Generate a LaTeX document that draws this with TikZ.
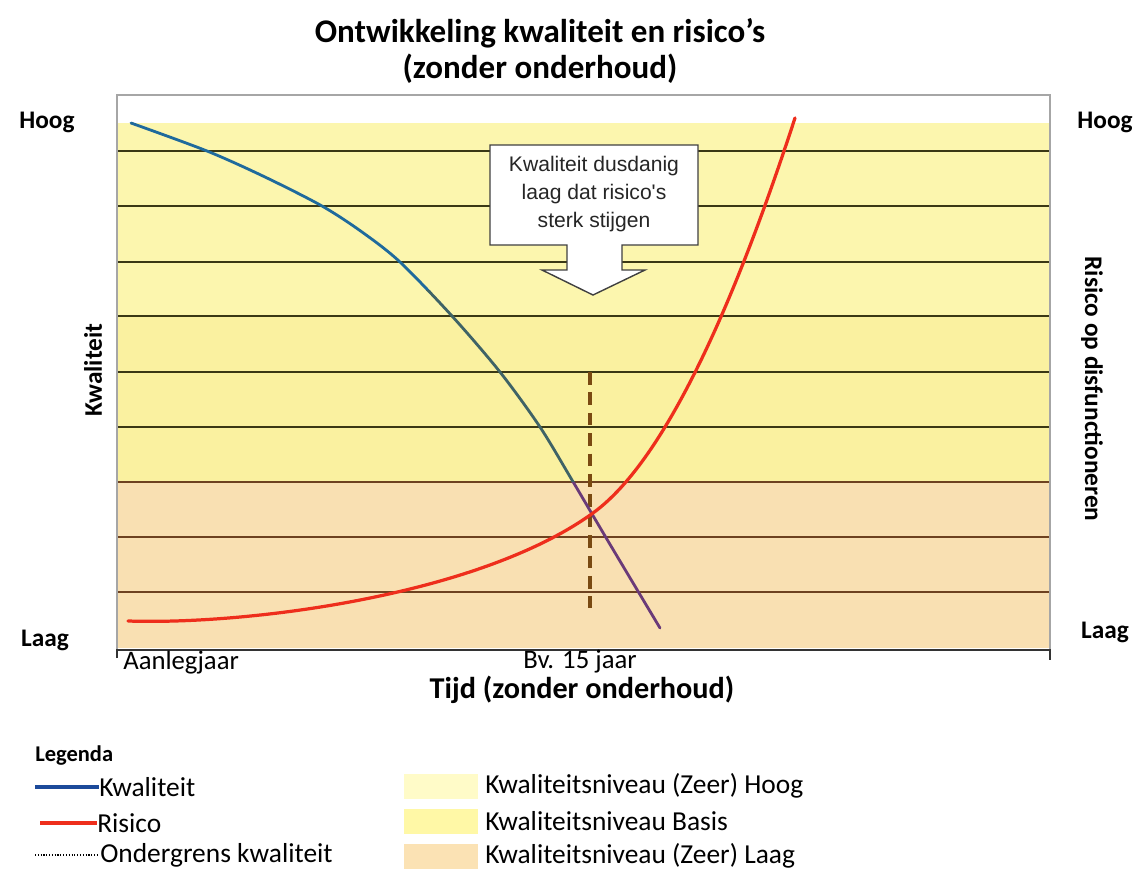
\documentclass[tikz,border=0pt]{standalone}
\usepackage{fontspec}
\setmainfont{Carlito}
\newfontfamily\arialfont{Liberation Sans}
\usepackage{tikz}
\usetikzlibrary{positioning}

\definecolor{zeerhoog}{HTML}{FCF6AE}
\definecolor{basis}{HTML}{FAF1A0}
\definecolor{zeerlaag}{HTML}{F9E0B2}
\definecolor{legzeerhoog}{HTML}{FFFBC8}
\definecolor{legbasis}{HTML}{FFF8A6}
\definecolor{legzeerlaag}{HTML}{FBE2B4}
\definecolor{kwalblauw}{HTML}{1F6A9C}
\definecolor{kwalgrijs}{HTML}{3F6366}
\definecolor{kwalpaars}{HTML}{6A3A78}
\definecolor{legblauw}{HTML}{1C4A9A}
\definecolor{risicorood}{HTML}{EE2E1C}
\definecolor{grensbruin}{HTML}{7A4A12}
\definecolor{lijngeel}{HTML}{3A3814}
\definecolor{lijnbruin}{HTML}{6E4220}

\begin{document}
\begin{tikzpicture}[
    x=0.025cm,
    y=-0.025cm,
    node distance=0.875cm,
    font=\fontsize{18}{21}\selectfont,
    titel/.style={
		font=\bfseries\fontsize{23.5}{25.6}\selectfont,
		align=center
	},
	asnaam/.style={
		font=\bfseries\fontsize{18}{21}\selectfont,
		inner sep=0pt
	},
	tijdlabel/.style={
		font=\fontsize{19}{22}\selectfont,
		inner sep=0pt
	},
	roostergeel/.style={
		line width=1pt,
		draw=lijngeel
	},
	roosterbruin/.style={
		line width=1pt,
		draw=lijnbruin
	},
	kwaliteit/.style={
		line width=2pt,
		line cap=round
	},
	risico/.style={
		line width=2.3pt,
		draw=risicorood,
		line cap=round
	},
	ondergrens/.style={
		line width=2.2pt,
		draw=grensbruin,
		dash pattern=on 9pt off 5.5pt
	},
	tekstblok/.style={
		font=\arialfont\fontsize{15}{20}\selectfont,
		align=center,
		text=black!85
	},
	legtekst/.style={
		font=\fontsize{19.5}{22}\selectfont,
		anchor=west,
		inner sep=0pt
	},
	vlak/.style={
		rectangle,
		minimum width=1.825cm,
		minimum height=0.625cm,
		inner sep=0pt
	}
  ]

\useasboundingbox (0,0) rectangle (1133,871);
\fill [white] (0,0) rectangle (1133,871);

% // De banden
\fill [zeerhoog] (117,123) rectangle (1050,316);
\fill [basis] (117,316) rectangle (1050,482);
\fill [zeerlaag] (117,482) rectangle (1050,648);

\draw [roostergeel] (117,151) -- (1050,151);
\draw [roostergeel] (117,206) -- (1050,206);
\draw [roostergeel] (117,262) -- (1050,262);
\draw [roostergeel] (117,316) -- (1050,316);
\draw [roostergeel] (117,372) -- (1050,372);
\draw [roostergeel] (117,427) -- (1050,427);
\draw [roosterbruin] (117,482) -- (1050,482);
\draw [roosterbruin] (117,537) -- (1050,537);
\draw [roosterbruin] (117,592) -- (1050,592);

% // Kader en tijdas
\draw [gray!70, line width=0.8pt] (117,650) -- (117,95) -- (1050,95) -- (1050,650);
\draw [black!80, line width=1.2pt] (117,658) -- (117,650) -- (1050,650) -- (1050,660);

% // Ondergrens
\draw [ondergrens] (590,372) -- (590,608);

% // Kwaliteit (blauw, grijs, paars)
\begin{scope}
\clip (0,0) rectangle (1133,290);
\draw [kwaliteit, kwalblauw] plot [smooth] coordinates {(131,123) (207,151) (265,177) (322,206) (362,232) (400,262) (452,316) (500,372) (540,427) (572,480) (608,541) (660,628)};
\end{scope}
\begin{scope}
\clip (0,290) rectangle (1133,482);
\draw [kwaliteit, kwalgrijs] plot [smooth] coordinates {(131,123) (207,151) (265,177) (322,206) (362,232) (400,262) (452,316) (500,372) (540,427) (572,480) (608,541) (660,628)};
\end{scope}
\begin{scope}
\clip (0,482) rectangle (1133,871);
\draw [kwaliteit, kwalpaars] plot [smooth] coordinates {(131,123) (207,151) (265,177) (322,206) (362,232) (400,262) (452,316) (500,372) (540,427) (572,480) (608,541) (660,628)};
\end{scope}

% // Risico
\coordinate (risicostart) at (128,621);
\coordinate (snijpunt) at (593,513);
\coordinate (risicoeind) at (795,118);
\draw [risico] (risicostart) .. controls (250,625) and (480,595) .. (snijpunt)
 .. controls (680,450) and (755,240) .. (risicoeind);

% // Toelichting
\draw [fill=white, draw=black!75, line width=1pt, line join=miter]
 (490,145) -- (698,145) -- (698,245) -- (622,245) -- (622,270) -- (645,270) -- (593,295)
 -- (542,270) -- (567,270) -- (567,245) -- (490,245) -- cycle;
\node [tekstblok] (toelichting) at (594,194) {Kwaliteit dusdanig\\laag dat risico's\\sterk stijgen};

% // Titel en assen
\node [titel] (titel) at (540,51) {Ontwikkeling kwaliteit en risico's\\(zonder onderhoud)};
\node [asnaam] (hooglinks) at (47,122) {Hoog};
\node [asnaam] (laaglinks) at (45,640) {Laag};
\node [asnaam] (hoogrechts) at (1105,122) {Hoog};
\node [asnaam] (laagrechts) at (1105,632) {Laag};
\node [asnaam, rotate=90] (kwalas) at (93,370) {Kwaliteit};
\node [asnaam, rotate=-90] (risicoas) at (1092,389) {Risico op disfunctioneren};
\node [tijdlabel, anchor=west] (aanleg) at (123,663) {Aanlegjaar};
\node [tijdlabel] (vijftien) at (580,662) {Bv. 15 jaar};
\node [asnaam, font=\bfseries\fontsize{21.5}{24}\selectfont] (tijd) at (582,690) {Tijd (zonder onderhoud)};

% // Legenda
\node [legtekst, font=\bfseries\fontsize{16}{19}\selectfont] (legenda) at (35,755) {Legenda};
\node [legtekst] (kwaltekst) at (99,787) {Kwaliteit};
\node [legtekst] (risicotekst) at (97,823) {Risico};
\node [legtekst] (grenstekst) at (100,855) {Ondergrens kwaliteit};
\coordinate (kwalbegin) at (35,787);
\coordinate (risicobegin) at (40,823);
\coordinate (grensbegin) at (35,855);
\draw [legblauw, line width=2.5pt] (kwalbegin) -- (kwaltekst.west);
\draw [risicorood, line width=2.5pt] (risicobegin) -- (risicotekst.west);
\draw [black, line width=1.6pt, dash pattern=on 0.8pt off 1.2pt] (grensbegin) -- ([xshift=-2pt]grenstekst.west);

\node [vlak, fill=legzeerhoog] (vlakhoog) at (441,786) {};
\node [vlak, fill=legbasis, below of=vlakhoog] (vlakbasis) {};
\node [vlak, fill=legzeerlaag, below of=vlakbasis] (vlaklaag) {};
\node [legtekst, right of=vlakhoog, node distance=1.1cm, anchor=west] (hoogtekst) {Kwaliteitsniveau (Zeer) Hoog};
\node [legtekst, right of=vlakbasis, node distance=1.1cm, anchor=west] (basistekst) {Kwaliteitsniveau Basis};
\node [legtekst, right of=vlaklaag, node distance=1.1cm, anchor=west] (laagtekst) {Kwaliteitsniveau (Zeer) Laag};

\end{tikzpicture}
\end{document}
